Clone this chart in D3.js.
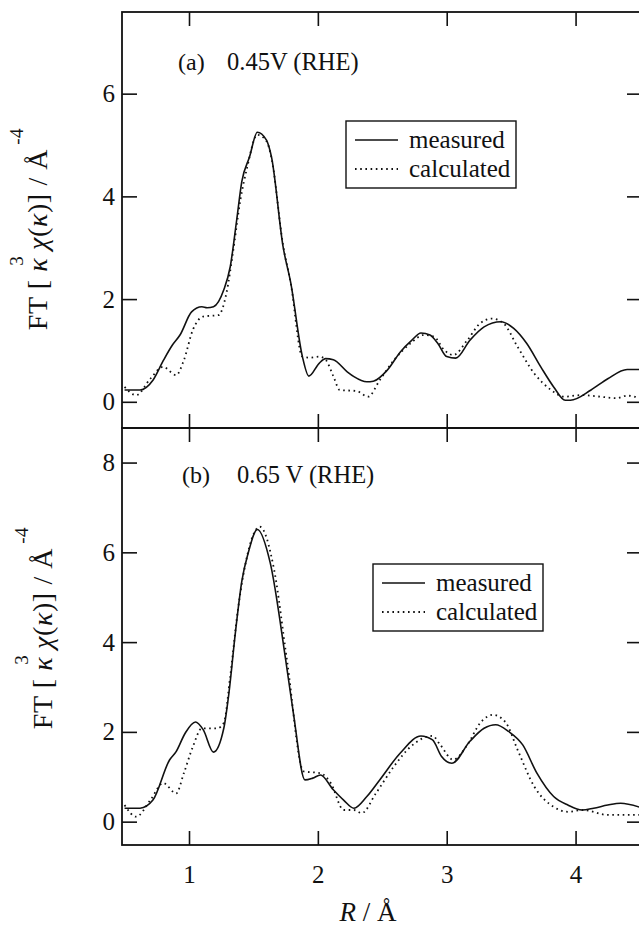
<!DOCTYPE html>
<html>
<head>
<meta charset="utf-8">
<script src="https://cdn.jsdelivr.net/npm/d3@7"></script>
<style>
body { margin: 0; background: #fff; }
text { font-family: "Liberation Serif", "Times New Roman", serif; fill: #111; }
</style>
</head>
<body>
<script>
var w = 639;
var h = 927;

// ---- data (R in Angstrom, FT magnitude) ----
var xTicks = [1, 2, 3, 4];
var yTicksA = [0, 2, 4, 6];
var yTicksB = [0, 2, 4, 6, 8];

var measA = [[0.50,0.23],[0.62,0.23],[0.72,0.42],[0.80,0.80],[0.87,1.10],[0.93,1.30],[1.02,1.75],[1.10,1.85],[1.14,1.83],
  [1.19,1.85],[1.27,2.18],[1.32,2.63],[1.37,3.54],[1.41,4.29],[1.47,4.77],[1.53,5.25],[1.60,5.10],[1.64,4.77],
  [1.73,3.02],[1.79,2.31],[1.88,0.88],[1.93,0.50],[2.01,0.75],[2.06,0.84],[2.12,0.82],[2.23,0.58],[2.28,0.49],
  [2.38,0.39],[2.43,0.40],[2.54,0.62],[2.64,0.97],[2.73,1.20],[2.80,1.34],[2.87,1.30],[2.93,1.14],[3.00,0.88],
  [3.07,0.85],[3.18,1.20],[3.29,1.46],[3.42,1.56],[3.52,1.43],[3.62,1.14],[3.73,0.68],[3.83,0.29],[3.92,0.03],
  [3.96,0.03],[4.12,0.23],[4.25,0.45],[4.40,0.63],[4.50,0.63]];

var calcA = [[0.50,0.29],[0.59,0.13],[0.70,0.45],[0.80,0.68],[0.90,0.52],[0.96,0.81],[1.03,1.40],[1.11,1.66],
  [1.23,1.69],[1.29,2.11],[1.34,2.89],[1.40,3.95],[1.45,4.55],[1.53,5.20],[1.60,5.08],[1.64,4.75],[1.73,3.05],
  [1.79,2.30],[1.88,0.88],[1.94,0.86],[2.01,0.88],[2.06,0.82],[2.12,0.50],[2.17,0.23],[2.30,0.21],[2.39,0.10],
  [2.48,0.42],[2.59,0.81],[2.72,1.14],[2.82,1.30],[2.90,1.27],[2.98,1.01],[3.05,0.91],[3.16,1.20],[3.26,1.53],
  [3.35,1.62],[3.44,1.53],[3.55,1.07],[3.68,0.55],[3.81,0.23],[3.91,0.10],[4.04,0.13],[4.19,0.10],[4.32,0.07],
  [4.40,0.12],[4.50,0.07]];

var measB = [[0.50,0.30],[0.62,0.30],[0.72,0.48],[0.85,1.38],[0.90,1.56],[0.97,1.97],[1.05,2.22],[1.11,2.05],
  [1.19,1.55],[1.27,2.08],[1.31,2.87],[1.36,4.21],[1.41,5.36],[1.46,5.99],[1.53,6.51],[1.63,5.77],[1.75,3.61],
  [1.81,2.42],[1.90,0.93],[1.96,0.97],[2.02,1.04],[2.12,0.71],[2.20,0.48],[2.28,0.30],[2.38,0.56],[2.48,0.93],
  [2.64,1.53],[2.80,1.91],[2.89,1.82],[2.96,1.45],[3.04,1.30],[3.18,1.79],[3.29,2.08],[3.38,2.16],[3.48,2.01],
  [3.59,1.71],[3.70,1.08],[3.83,0.56],[3.94,0.37],[4.05,0.26],[4.14,0.30],[4.25,0.37],[4.35,0.41],[4.50,0.32]];

var calcB = [[0.50,0.37],[0.59,0.11],[0.70,0.48],[0.80,0.86],[0.90,0.63],[0.96,1.08],[1.03,1.67],[1.10,2.08],
  [1.22,2.08],[1.27,2.20],[1.32,3.24],[1.38,4.73],[1.42,5.47],[1.55,6.57],[1.66,5.62],[1.76,3.60],[1.89,1.12],
  [2.02,1.08],[2.10,0.86],[2.20,0.26],[2.28,0.26],[2.34,0.19],[2.45,0.63],[2.59,1.23],[2.72,1.67],[2.89,1.91],
  [2.95,1.71],[3.05,1.38],[3.16,1.71],[3.26,2.20],[3.36,2.38],[3.46,2.20],[3.55,1.60],[3.68,0.78],[3.83,0.33],
  [3.94,0.22],[4.06,0.26],[4.25,0.15],[4.50,0.15]];

var svg = d3.select("body").append("svg")
    .attr("width", w)
    .attr("height", h);

var x = d3.scaleLinear().domain([0.48, 4.5]).range([122, 640]);

function drawPanel(top, bottom, yDomain, yTicks, meas, calc, tag, tagX, label, labelX, textY, legendX, legendY, showXLabels){
    var y = d3.scaleLinear().domain(yDomain).range([bottom, top]);

    svg.append("g").attr("transform", "translate(0," + bottom + ")")
        .call(d3.axisBottom(x).tickValues(xTicks).tickSizeInner(-14).tickSizeOuter(0).tickPadding(showXLabels ? 20 : 0)
        .tickFormat(showXLabels ? d3.format("d") : ""))
        .call(function(g){ g.select(".domain").remove(); g.selectAll("text").attr("font-size", 25).attr("font-family", null); });
    svg.append("g").attr("transform", "translate(0," + top + ")")
        .call(d3.axisTop(x).tickValues(xTicks).tickSizeInner(-14).tickSizeOuter(0).tickFormat(""))
        .call(function(g){ g.select(".domain").remove(); });
    svg.append("g").attr("transform", "translate(122,0)")
        .call(d3.axisLeft(y).tickValues(yTicks).tickSizeInner(-15).tickSizeOuter(0).tickPadding(7).tickFormat(d3.format("d")))
        .call(function(g){ g.select(".domain").remove(); g.selectAll("text").attr("font-size", 25).attr("font-family", null); });
    svg.append("g").attr("transform", "translate(640,0)")
        .call(d3.axisRight(y).tickValues(yTicks).tickSizeInner(-13).tickSizeOuter(0).tickFormat(""))
        .call(function(g){ g.select(".domain").remove(); });
    svg.selectAll(".tick line").attr("stroke", "#111").attr("stroke-width", 1.6);

    svg.append("rect")
        .attr("x", 122).attr("y", top)
        .attr("width", 518).attr("height", bottom - top)
        .attr("fill", "none").attr("stroke", "#111").attr("stroke-width", 1.8);

    var line = d3.line().x(function(d){ return x(d[0]); }).y(function(d){ return y(d[1]); })
        .curve(d3.curveMonotoneX);

    svg.append("path").datum(calc)
        .attr("d", line).attr("fill", "none").attr("stroke", "#111")
        .attr("stroke-width", 1.8).attr("stroke-dasharray", "1.6,3.6");
    svg.append("path").datum(meas)
        .attr("d", line).attr("fill", "none").attr("stroke", "#111")
        .attr("stroke-width", 1.6);

    //-----annotation------
    svg.append("text").text(tag)
        .attr("x", tagX).attr("y", textY)
        .attr("font-size", 24);
    svg.append("text").text(label)
        .attr("x", labelX).attr("y", textY)
        .attr("font-size", 24.5);

    //-----legend------
    svg.append("rect")
        .attr("x", legendX).attr("y", legendY)
        .attr("width", 170).attr("height", 67)
        .attr("fill", "#fff").attr("stroke", "#111").attr("stroke-width", 1.4);
    svg.append("line")
        .attr("x1", legendX + 9).attr("x2", legendX + 52)
        .attr("y1", legendY + 19).attr("y2", legendY + 19)
        .attr("stroke", "#111").attr("stroke-width", 1.6);
    svg.append("line")
        .attr("x1", legendX + 9).attr("x2", legendX + 52)
        .attr("y1", legendY + 48).attr("y2", legendY + 48)
        .attr("stroke", "#111").attr("stroke-width", 1.8).attr("stroke-dasharray", "1.6,3.6");
    svg.append("text").text("measured")
        .attr("x", legendX + 63).attr("y", legendY + 27)
        .attr("font-size", 25);
    svg.append("text").text("calculated")
        .attr("x", legendX + 63).attr("y", legendY + 56)
        .attr("font-size", 25);

    return y;
}

drawPanel(12, 428, [-0.51, 7.59], yTicksA, measA, calcA, "(a)", 178, "0.45V (RHE)", 227, 70, 346, 121, false);
drawPanel(428, 845, [-0.52, 8.77], yTicksB, measB, calcB, "(b)", 182, "0.65 V (RHE)", 237, 483, 373, 564, true);

//-----y titles-----
function yTitle(cx, cy){
    var t = svg.append("text")
        .attr("transform", "translate(" + cx + "," + cy + ") rotate(-90)")
        .attr("text-anchor", "middle")
        .attr("font-size", 28)
        .attr("letter-spacing", 0.6)
        .attr("xml:space", "preserve");
    t.append("tspan").text("FT [ ");
    t.append("tspan").text("\u03ba").attr("font-style", "italic");
    t.append("tspan").text("3").attr("font-size", 19).attr("dy", -24).attr("dx", -8);
    t.append("tspan").text(" \u03c7").attr("font-style", "italic").attr("dy", 24).attr("dx", -2);
    t.append("tspan").text("(");
    t.append("tspan").text("\u03ba").attr("font-style", "italic");
    t.append("tspan").text(")] / \u00c5");
    t.append("tspan").text("-4").attr("font-size", 19).attr("dy", -24).attr("dx", 4);
}
yTitle(47, 229);
yTitle(52, 628);

//-----x title-----
var xt = svg.append("text")
    .attr("x", 368).attr("y", 921)
    .attr("text-anchor", "middle")
    .attr("font-size", 27);
xt.append("tspan").text("R").attr("font-style", "italic");
xt.append("tspan").text(" / \u00c5");
</script>
</body>
</html>
